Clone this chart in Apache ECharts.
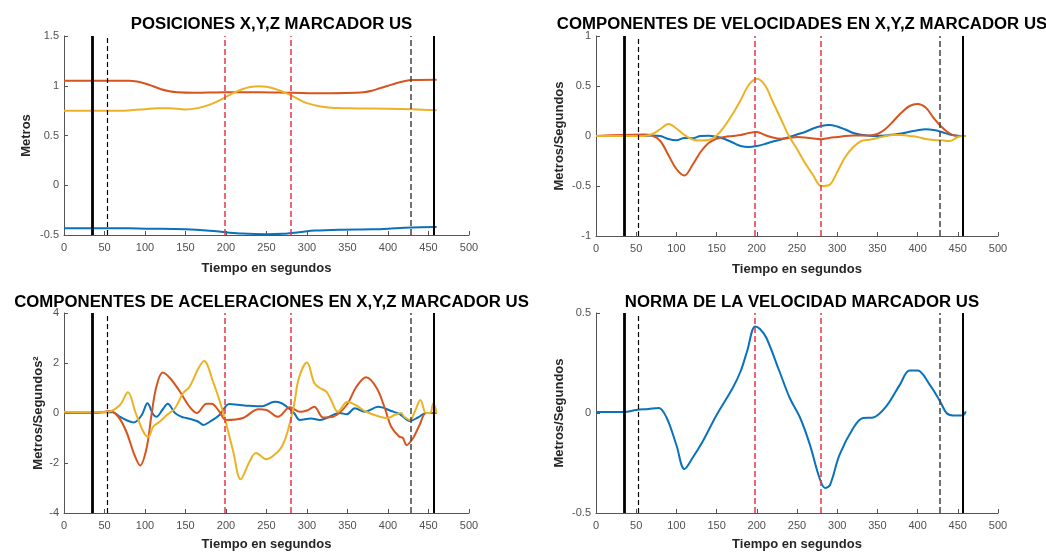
<!DOCTYPE html>
<html>
<head>
<meta charset="utf-8">
<script src="https://cdn.jsdelivr.net/npm/echarts@6/dist/echarts.min.js"></script>
<style>
  html, body { margin: 0; padding: 0; background: #fff; }
  #chart { width: 1046px; height: 552px; }
</style>
</head>
<body>
<div id="chart"></div>
<script>
// ---- Panel titles and axis names ----
const panelTitles = [
  'POSICIONES X,Y,Z MARCADOR US',
  'COMPONENTES DE VELOCIDADES EN X,Y,Z MARCADOR US',
  'COMPONENTES DE ACELERACIONES EN X,Y,Z MARCADOR US',
  'NORMA DE LA VELOCIDAD MARCADOR US'
];
const xName = 'Tiempo en segundos';
const yNames = ['Metros', 'Metros/Segundos', 'Metros/Segundos\u00B2', 'Metros/Segundos'];

// ---- Event markers (s) ----
const eventTimes = [35, 53, 198, 280, 428, 456];

// ---- Positions (m) ----
const posTimeX = [0, 80, 100, 150, 180, 200, 220, 250, 270, 290, 310, 340, 380, 400, 420, 440, 460];
const posX     = [-0.432, -0.432, -0.436, -0.443, -0.457, -0.473, -0.486, -0.492, -0.487, -0.472, -0.455, -0.446, -0.442, -0.436, -0.426, -0.421, -0.42];
const posTimeY = [0, 40, 80, 90, 100, 110, 120, 130, 140, 160, 200, 240, 280, 320, 360, 370, 380, 390, 400, 410, 420, 430, 460];
const posY     = [1.05, 1.05, 1.05, 1.042, 1.022, 0.995, 0.965, 0.945, 0.935, 0.93, 0.935, 0.935, 0.93, 0.925, 0.93, 0.935, 0.95, 0.975, 1.0, 1.025, 1.045, 1.057, 1.06];
const posTimeZ = [0, 50, 80, 100, 115, 130, 150, 165, 180, 190, 200, 210, 220, 230, 240, 250, 260, 270, 280, 290, 300, 315, 330, 360, 400, 430, 460];
const posZ     = [0.748, 0.748, 0.752, 0.765, 0.775, 0.775, 0.762, 0.775, 0.81, 0.845, 0.888, 0.93, 0.965, 0.988, 0.995, 0.99, 0.97, 0.94, 0.905, 0.862, 0.825, 0.795, 0.778, 0.772, 0.77, 0.765, 0.755];

// ---- Velocity components (m/s) ----
const velTime = [0, 60, 70, 80, 90, 100, 110, 120, 130, 140, 150, 160, 170, 180, 190, 200, 210, 220, 230, 240, 250, 260, 270, 280, 290, 300, 310, 320, 330, 340, 350, 360, 370, 380, 390, 400, 410, 420, 430, 440, 450, 460];
const velX = [0, 0, 0.005, 0, -0.03, -0.042, -0.02, -0.022, 0.0, 0.003, -0.008, -0.03, -0.065, -0.1, -0.11, -0.1, -0.08, -0.055, -0.035, -0.012, 0.015, 0.04, 0.075, 0.1, 0.11, 0.095, 0.065, 0.03, 0.012, 0.002, 0.0, 0.005, 0.015, 0.025, 0.042, 0.058, 0.067, 0.06, 0.04, 0.015, 0.003, 0];
const velY = [0, 0.015, 0.005, -0.05, -0.19, -0.33, -0.395, -0.29, -0.16, -0.07, -0.027, -0.01, 0.0, 0.01, 0.03, 0.04, 0.01, -0.015, -0.027, -0.02, -0.01, -0.015, -0.025, -0.033, -0.02, -0.01, 0.0, 0.005, 0.005, 0.005, 0.02, 0.07, 0.15, 0.235, 0.3, 0.32, 0.285, 0.18, 0.09, 0.025, 0.0, 0];
const velZ = [0, 0.0, 0.02, 0.07, 0.12, 0.075, 0.01, -0.035, -0.045, -0.04, 0.005, 0.1, 0.22, 0.36, 0.51, 0.573, 0.51, 0.34, 0.17, 0.0, -0.13, -0.27, -0.39, -0.5, -0.49, -0.36, -0.21, -0.11, -0.05, -0.037, -0.02, 0.0, 0.01, 0.01, 0.0, -0.01, -0.03, -0.04, -0.043, -0.05, -0.01, 0];

// ---- Acceleration components (m/s^2) ----
const accTimeX = [0, 30, 50, 60, 69, 78, 86, 96, 103, 110, 114, 122, 128, 137, 145, 151, 160, 166, 172, 180, 192, 204, 215, 229, 245, 260, 268, 275, 284, 291, 305, 316, 324, 340, 349, 359, 371, 388, 404, 415, 427, 437, 447, 460];
const accX     = [0.02, 0.02, 0.03, 0.03, -0.15, -0.3, -0.38, -0.08, 0.39, -0.05, -0.15, 0.15, 0.37, 0.0, -0.15, -0.2, -0.28, -0.35, -0.48, -0.35, -0.08, 0.36, 0.33, 0.29, 0.27, 0.45, 0.4, 0.25, 0.0, -0.28, -0.22, -0.28, -0.2, 0.0, -0.05, 0.19, 0.05, 0.25, 0.08, -0.05, -0.32, -0.18, 0.0, 0.0];
const accTimeY = [0, 40, 50, 56, 67, 77, 87, 94, 102, 108, 114, 122, 131, 143, 155, 164, 176, 182, 192, 200, 221, 240, 250, 264, 279, 291, 300, 309, 320, 332, 349, 361, 373, 386, 396, 404, 414, 418, 423, 431, 439, 447, 460];
const accY     = [0.0, 0.0, 0.05, 0.08, -0.15, -0.75, -1.68, -2.1, -1.4, -0.08, 1.05, 1.62, 1.39, 0.86, 0.25, 0.0, 0.37, 0.37, 0.05, -0.28, -0.2, 0.15, 0.12, -0.15, 0.23, 0.05, 0.1, 0.25, -0.18, -0.15, 0.32, 1.05, 1.43, 1.0, 0.2, -0.55, -0.95, -0.98, -1.28, -1.0, -0.48, 0.0, 0.0];
const accTimeZ = [0, 20, 40, 55, 69, 79, 88, 98, 104, 110, 118, 127, 137, 147, 155, 166, 173, 184, 192, 198, 209, 218, 229, 237, 250, 264, 270, 276, 284, 290, 300, 309, 316, 324, 330, 338, 350, 361, 373, 390, 400, 408, 416, 420, 427, 433, 440, 447, 452, 456, 460];
const accZ     = [0.05, 0.03, 0.03, 0.05, 0.32, 0.83, 0.05, -0.75, -0.96, -0.55, -0.35, -0.08, 0.19, 0.79, 1.05, 1.79, 2.08, 1.25, 0.5, -0.15, -1.55, -2.65, -1.95, -1.6, -1.85, -1.55, -1.28, -0.75, 0.32, 1.4, 2.02, 1.2, 1.0, 0.85, 0.5, 0.05, 0.45, 0.3, 0.05, -0.15, -0.2, -0.08, 0.0, -0.15, -0.28, 0.05, 0.52, 0.0, 0.0, 0.39, 0.0];

// ---- Velocity norm (m/s) ----
const normTime = [0, 35, 50, 65, 78, 88, 100, 110, 120, 133, 150, 170, 180, 188, 198, 204, 212, 228, 241, 254, 266, 278, 285, 291, 303, 320, 332, 345, 361, 378, 390, 400, 415, 428, 436, 444, 456, 460];
const normV    = [0.005, 0.005, 0.015, 0.02, 0.025, -0.025, -0.16, -0.28, -0.225, -0.14, -0.01, 0.125, 0.21, 0.31, 0.433, 0.42, 0.375, 0.21, 0.075, -0.025, -0.158, -0.325, -0.375, -0.36, -0.208, -0.075, -0.025, -0.022, 0.033, 0.142, 0.212, 0.212, 0.142, 0.058, 0.0, -0.012, -0.012, 0.008];

// ---- Y axis ranges ----
const yRanges = [
  { min: -0.5, max: 1.5, interval: 0.5 },
  { min: -1, max: 1, interval: 0.5 },
  { min: -4, max: 4, interval: 2 },
  { min: -0.5, max: 0.5, interval: 0.5 }
];

// ---- Styling ----
const FONT = '"Liberation Sans", Arial, Helvetica, sans-serif';
const COL_X = '#0a72bb', COL_Y = '#d6551f', COL_Z = '#ebb225';
const grids = [
  { left: 64, top: 36, width: 405, height: 199 },
  { left: 596, top: 36, width: 402, height: 200 },
  { left: 64, top: 313, width: 405, height: 200 },
  { left: 596, top: 313, width: 402, height: 200 }
];
const yNameGaps = [31, 30, 19, 30];
const xNameGaps = [27, 27, 25, 25];

const pair = (ts, vs) => ts.map((t, i) => [t, vs[i]]);

const eventStyles = [
  { color: '#000000', width: 2.8, type: 'solid' },
  { color: '#000000', width: 1.2, type: [5, 3] },
  { color: '#e8354a', width: 1.5, type: [6, 3] },
  { color: '#e8354a', width: 1.5, type: [6, 3] },
  { color: '#444444', width: 1.5, type: [6, 3] },
  { color: '#000000', width: 2, type: 'solid' }
];

function eventLines(idx) {
  return {
    type: 'line', xAxisIndex: idx, yAxisIndex: idx, data: [], z: 5, silent: true,
    markLine: {
      silent: true, symbol: ['none', 'none'], animation: false,
      label: { show: false },
      data: eventTimes.map((t, k) => ({ xAxis: t, lineStyle: eventStyles[k] }))
    }
  };
}

function curve(idx, name, data, color) {
  return {
    type: 'line', name, xAxisIndex: idx, yAxisIndex: idx, data,
    showSymbol: false, smooth: 0.35, animation: false, z: 3,
    lineStyle: { color, width: 2 }, itemStyle: { color }
  };
}

const centers = grids.map(g => g.left + g.width / 2);
const titleTops = [11, 11, 289, 289];

const option = {
  backgroundColor: '#ffffff',
  animation: false,
  title: panelTitles.map((t, i) => ({
    text: t, left: centers[i], top: titleTops[i], textAlign: 'center',
    textStyle: { fontFamily: FONT, fontWeight: 'bold', fontSize: 16.8, color: '#000' }
  })),
  grid: grids,
  xAxis: grids.map((g, i) => ({
    type: 'value', gridIndex: i, min: 0, max: 500, interval: 50,
    name: xName, nameLocation: 'middle', nameGap: xNameGaps[i],
    nameTextStyle: { fontFamily: FONT, fontWeight: 'bold', fontSize: 13, color: '#262626' },
    axisLine: { show: true, onZero: false, lineStyle: { color: '#555', width: 1 } },
    axisTick: { show: true, inside: true, length: 4, lineStyle: { color: '#555' } },
    axisLabel: { fontFamily: FONT, fontSize: 11, color: '#505050', margin: 7 },
    splitLine: { show: false }
  })),
  yAxis: grids.map((g, i) => ({
    type: 'value', gridIndex: i,
    min: yRanges[i].min, max: yRanges[i].max, interval: yRanges[i].interval,
    name: yNames[i], nameLocation: 'middle', nameGap: yNameGaps[i],
    nameTextStyle: { fontFamily: FONT, fontWeight: 'bold', fontSize: 13, color: '#262626' },
    axisLine: { show: true, onZero: false, lineStyle: { color: '#555', width: 1 } },
    axisTick: { show: true, inside: true, length: 4, lineStyle: { color: '#555' } },
    axisLabel: { fontFamily: FONT, fontSize: 11, color: '#505050', margin: 5 },
    splitLine: { show: false }
  })),
  series: [
    curve(0, 'X', pair(posTimeX, posX), COL_X),
    curve(0, 'Y', pair(posTimeY, posY), COL_Y),
    curve(0, 'Z', pair(posTimeZ, posZ), COL_Z),
    eventLines(0),
    curve(1, 'X', pair(velTime, velX), COL_X),
    curve(1, 'Y', pair(velTime, velY), COL_Y),
    curve(1, 'Z', pair(velTime, velZ), COL_Z),
    eventLines(1),
    curve(2, 'X', pair(accTimeX, accX), COL_X),
    curve(2, 'Y', pair(accTimeY, accY), COL_Y),
    curve(2, 'Z', pair(accTimeZ, accZ), COL_Z),
    eventLines(2),
    curve(3, 'Norma', pair(normTime, normV), COL_X),
    eventLines(3)
  ]
};

const chart = echarts.init(document.getElementById('chart'), null, { renderer: 'canvas' });
chart.setOption(option);
</script>
</body>
</html>
